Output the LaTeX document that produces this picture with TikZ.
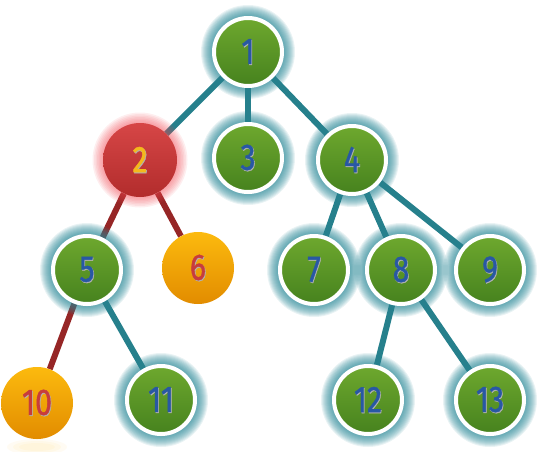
\documentclass[tikz,border=0pt]{standalone}
\usepackage{fontspec}
\setmainfont{Fira Sans}
\newfontfamily\digitfont{Fira Sans}[FakeBold=1.2]
\pgfdeclarelayer{edges}
\pgfdeclarelayer{glow}
\pgfsetlayers{edges,glow,main}
\definecolor{edgeteal}{RGB}{38,128,140}
\definecolor{edgered}{RGB}{150,38,38}
\definecolor{haloteal}{RGB}{40,135,150}
\definecolor{halored}{RGB}{240,70,80}
\definecolor{greentop}{RGB}{110,168,46}
\definecolor{greenbot}{RGB}{70,130,30}
\definecolor{redtop}{RGB}{214,70,70}
\definecolor{redbot}{RGB}{178,44,44}
\definecolor{orangetop}{RGB}{252,186,14}
\definecolor{orangebot}{RGB}{226,140,0}
\definecolor{numblue}{RGB}{40,88,164}
\definecolor{numgold}{RGB}{244,184,28}
\definecolor{numred}{RGB}{200,60,60}
% digit label with a soft drop shadow
\newcommand\numlabel[2]{%
  \mbox{\makebox[0pt]{\raisebox{-1pt}{\hspace{1.5pt}\color{black!30}\scalebox{0.82}[1]{#2}}}%
        \makebox[0pt]{\color{#1}\scalebox{0.82}[1]{#2}}}}
\tikzset{
  x=1pt, y=-1pt,
  every node/.style={font=\digitfont\fontsize{37}{37}\selectfont},
  greennode/.style={circle, minimum size=68pt, inner sep=0pt, draw=white,
    line width=4pt, top color=greentop, bottom color=greenbot},
  rednode/.style={circle, minimum size=74pt, inner sep=0pt,
    top color=redtop, bottom color=redbot},
  orangenode/.style={circle, minimum size=72pt, inner sep=0pt,
    top color=orangetop, bottom color=orangebot},
  tealedge/.style={draw=edgeteal, line width=6pt},
  rededge/.style={draw=edgered, line width=6pt},
}
\begin{document}
\begin{tikzpicture}
\useasboundingbox (0,0) rectangle (545,451);
% tree nodes
\node[greennode]  (n1)  at (248,52)  {\numlabel{numblue}{1}};
\node[rednode]    (n2)  at (140,160) {\numlabel{numgold}{2}};
\node[greennode]  (n3)  at (248,158) {\numlabel{numblue}{3}};
\node[greennode]  (n4)  at (352,160) {\numlabel{numblue}{4}};
\node[greennode]  (n5)  at (87,270)  {\numlabel{numblue}{5}};
\node[orangenode] (n6)  at (198,268) {\numlabel{numred}{6}};
\node[greennode]  (n7)  at (314,270) {\numlabel{numblue}{7}};
\node[greennode]  (n8)  at (401,270) {\numlabel{numblue}{8}};
\node[greennode]  (n9)  at (490,270) {\numlabel{numblue}{9}};
\node[orangenode] (n10) at (37,403)  {\numlabel{numred}{10}};
\node[greennode]  (n11) at (161,400) {\numlabel{numblue}{11}};
\node[greennode]  (n12) at (368,400) {\numlabel{numblue}{12}};
\node[greennode]  (n13) at (490,400) {\numlabel{numblue}{13}};
% soft halos around the nodes
\begin{pgfonlayer}{glow}
  \foreach \n in {n1,n3,n4,n5,n7,n8,n9,n11,n12,n13}
    \foreach \r in {37,38,39,40,41,42,43,44,45,46,47}
      \fill[haloteal, opacity=0.10] (\n.center) circle (\r);
  \foreach \r in {37,38.5,40,41.5,43,44.5,46,47.5}
    \fill[halored, opacity=0.09] (n2.center) circle (\r);
  % faint reflection below node 10
  \foreach \r in {4,6,8}
    \fill[orangetop, opacity=0.05] (37,447) ellipse (3*\r+6 and \r);
\end{pgfonlayer}
% connectors
\begin{pgfonlayer}{edges}
  \draw[tealedge] (n1) -- (n2);
  \draw[tealedge] (n1) -- (n3);
  \draw[tealedge] (n1) -- (n4);
  \draw[rededge]  (n2) -- (n5);
  \draw[rededge]  (n2) -- (n6);
  \draw[tealedge] (n4) -- (n7);
  \draw[tealedge] (n4) -- (n8);
  \draw[tealedge] (n4) -- (n9);
  \draw[rededge]  (n5) -- (n10);
  \draw[tealedge] (n5) -- (n11);
  \draw[tealedge] (n8) -- (n12);
  \draw[tealedge] (n8) -- (n13);
\end{pgfonlayer}
\end{tikzpicture}
\end{document}
